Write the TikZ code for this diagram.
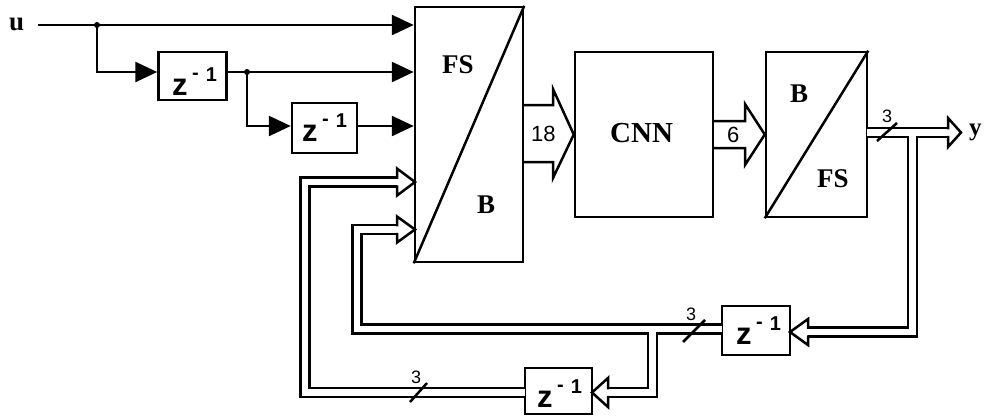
\documentclass[tikz,border=0pt]{standalone}
\usepackage{fontspec}
\setmainfont{Liberation Serif}
\setsansfont{Liberation Sans}
\usetikzlibrary{arrows.meta,calc}

\newcommand\zinv{\sffamily\bfseries\fontsize{31}{31}\selectfont z\hspace{4.5pt}\raisebox{16pt}{\fontsize{20}{20}\selectfont -}\hspace{7pt}\raisebox{14pt}{\fontsize{20}{20}\selectfont 1}}
% fat hollow head: x0, yc, tip x, half height, side (-1 band on left, +1 band on right)
\newcommand\fathead[5]{%
  \draw[ln, line join=miter] ({#1+(#5)},{#2-4.5}) -- (#1,{#2-4.5}) -- (#1,{#2-#4}) -- (#3,#2) -- (#1,{#2+#4}) -- (#1,{#2+4.5}) -- ({#1+(#5)},{#2+4.5});}

\tikzset{
  ln/.style={line width=2.5pt},
  blk/.style={draw, line width=2.5pt, inner sep=0pt, rectangle},
  sig/.style={line width=2.5pt, -{Triangle[length=22pt,width=20pt]}},
  bandout/.style={line width=11.5pt, line join=miter, line cap=butt},
  bandin/.style={line width=6.5pt, white, line join=miter, line cap=butt},
  serlab/.style={font=\bfseries\fontsize{27}{27}\selectfont, inner sep=0pt, anchor=base west},
  numlab/.style={font=\sffamily\fontsize{22}{22}\selectfont, inner sep=0pt, anchor=base west},
  smalllab/.style={font=\sffamily\fontsize{18}{18}\selectfont, inner sep=0pt, anchor=base west},
  zlab/.style={inner sep=0pt, anchor=base west},
}

\begin{document}
\begin{tikzpicture}[x=1pt,y=-1pt]
\useasboundingbox (0,0) rectangle (985,416);

% blocks
\node[blk, minimum width=108pt, minimum height=255pt] (fsb) at (469,134.5) {};
\node[blk, minimum width=138pt, minimum height=165pt] (cnn) at (644,134.5) {};
\node[blk, minimum width=101pt, minimum height=165pt] (bfs) at (816.5,134.5) {};
\node[blk, minimum width=68pt, minimum height=48pt] (z1) at (192.5,76) {};
\node[blk, minimum width=65pt, minimum height=50pt] (z2) at (324.5,128) {};
\node[blk, minimum width=68pt, minimum height=49pt] (z3) at (756,330.5) {};
\node[blk, minimum width=67pt, minimum height=46pt] (z4) at (558.5,391) {};
\draw[ln] (fsb.south west) -- (fsb.north east);
\draw[ln] (bfs.south west) -- (bfs.north east);

% named points of the double-line buses
\coordinate (oA) at (867,132.5);  \coordinate (oB) at (948,132.5);
\coordinate (bA) at (912.5,132.5); \coordinate (bB) at (912.5,332); \coordinate (bC) at (808,332);
\coordinate (fA) at (722,329); \coordinate (fB) at (357,329); \coordinate (fC) at (357,229.5); \coordinate (fD) at (397,229.5);
\coordinate (gA) at (652.5,329); \coordinate (gB) at (652.5,392.5); \coordinate (gC) at (608,392.5);
\coordinate (hA) at (525,392.5); \coordinate (hB) at (305,392.5); \coordinate (hC) at (305,182); \coordinate (hD) at (397,182);

\foreach \s in {bandout, bandin}{
  \draw[\s] (oA) -- (oB);
  \draw[\s] (bA) -- (bB) -- (bC);
  \draw[\s] (fA) -- (fB) -- (fC) -- (fD);
  \draw[\s] (gA) -- (gB) -- (gC);
  \draw[\s] (hA) -- (hB) -- (hC) -- (hD);
}
\fathead{948}{132.5}{961}{14.5}{-1}
\fathead{808}{332}{790}{13}{1}
\fathead{397}{229.5}{415}{13}{-1}
\fathead{608}{392.5}{592}{14.5}{1}
\fathead{397}{182}{415}{13.5}{-1}

% wide arrows between blocks
\draw[ln, line join=miter] (523,105) -- (553,105) -- (553,89) -- (cnn.west) -- (553,178) -- (553,162) -- (523,162);
\draw[ln, line join=miter] (713,121) -- (745,121) -- (745,104) -- (bfs.west) -- (745,165) -- (745,148) -- (713,148);

% bus width ticks
\draw[ln] (877,141) -- (897,123);
\draw[ln] (683,342) -- (705,320);
\draw[ln] (410,402) -- (427,383);

% scalar input lines
\coordinate (uin) at (38,25);
\coordinate (j1) at (97,25);
\coordinate (j2) at (247,72);
\coordinate (r2) at (0,72);
\coordinate (r3) at (0,126);
\draw[sig] (uin) -- (uin -| fsb.west);
\draw[sig] (j1) |- (z1.west |- r2);
\draw[sig] (z1.east |- r2) -- (fsb.west |- r2);
\draw[sig] (j2) |- (z2.west |- r3);
\draw[sig] (z2.east |- r3) -- (fsb.west |- r3);
\fill (j1) circle (3pt);
\fill (j2) circle (3pt);

% texts
\node[font=\bfseries\fontsize{27}{27}\selectfont, inner sep=0pt, anchor=base west] (ulab) at (9,30) {u};
\node[font=\bfseries\fontsize{25}{25}\selectfont, inner sep=0pt, anchor=base west] (ylab) at (969,135) {y};
\node[serlab] (fs1) at (442,73) {FS};
\node[serlab] (b1) at (477,213) {B};
\node[serlab, font=\bfseries\fontsize{29}{29}\selectfont] (cnnl) at (610,142) {CNN};
\node[serlab] (b2) at (790,102) {B};
\node[serlab] (fs2) at (817,187) {FS};
\node[numlab] (n18) at (531,141) {18};
\node[numlab] (n6) at (727,142) {6};
\node[smalllab] (n3a) at (882,122) {3};
\node[smalllab] (n3b) at (686,320) {3};
\node[smalllab] (n3c) at (411,383) {3};
\node[zlab] (z1t) at (172,95) {\zinv};
\node[zlab] (z2t) at (302,141) {\zinv};
\node[zlab] (z3t) at (736,344) {\zinv};
\node[zlab] (z4t) at (537,407) {\zinv};
\end{tikzpicture}
\end{document}
